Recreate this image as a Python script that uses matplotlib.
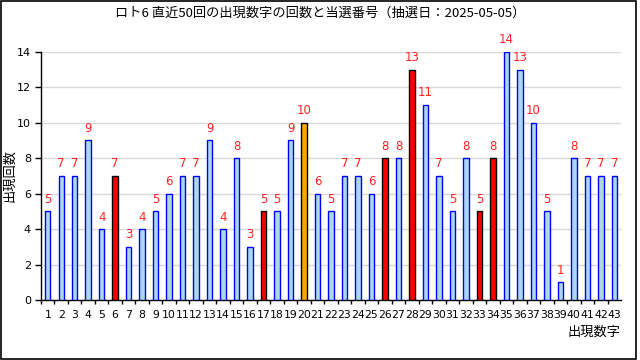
import matplotlib
matplotlib.use('Agg')
import matplotlib.pyplot as plt
from matplotlib.patches import Rectangle
from matplotlib.ticker import MultipleLocator

plt.rcParams['font.family'] = ['Noto Sans CJK JP', 'DejaVu Sans']

# data
numbers = list(range(1, 44))
counts = [5, 7, 7, 9, 4, 7, 3, 4, 5, 6,
          7, 7, 9, 4, 8, 3, 5, 5, 9, 10,
          6, 5, 7, 7, 6, 8, 8, 13, 11, 7,
          5, 8, 5, 8, 14, 13, 10, 5, 1, 8,
          7, 7, 7]
winning = [6, 17, 26, 28, 33, 34]
bonus = [20]

title = 'ロト6 直近50回の出現数字の回数と当選番号（抽選日：2025-05-05）'

fig = plt.figure(figsize=(6.4, 3.6), dpi=100)
ax = fig.add_axes([0.0636, 0.1667, 0.9064, 0.6893])

face, edge = [], []
for n in numbers:
    if n in winning:
        face.append('#ff0000'); edge.append('black')
    elif n in bonus:
        face.append('#ffa500'); edge.append('black')
    else:
        face.append('#add8e6'); edge.append('#0000ff')

ax.bar(numbers, counts, width=0.4, color=face, edgecolor=edge, linewidth=1, zorder=3)

# count labels above each bar
for n, c in zip(numbers, counts):
    ax.annotate(str(c), (n, c), xytext=(0, 4), textcoords='offset points',
                ha='center', va='bottom', color='#ff2020', fontsize=8.5,
                family='DejaVu Sans', annotation_clip=False, zorder=4)

ax.set_xlim(0.48, 43.48)
ax.set_ylim(0, 14)
ax.set_xticks(numbers)
ax.set_xticklabels([str(n) for n in numbers], family='DejaVu Sans', fontsize=7.8)
ax.xaxis.set_minor_locator(MultipleLocator(1, offset=0.5))
ax.tick_params(axis='x', which='major', length=0, pad=7)
ax.tick_params(axis='x', which='minor', length=3, width=1, color='black')
ax.yaxis.set_major_locator(MultipleLocator(2))
ax.tick_params(axis='y', length=4, width=1, pad=3)
for lbl in ax.get_yticklabels():
    lbl.set_family('DejaVu Sans')
    lbl.set_fontsize(8)

ax.grid(axis='y', color='#d8d8d8', linewidth=1, zorder=0)
ax.set_axisbelow(True)
ax.spines['top'].set_visible(False)
ax.spines['right'].set_visible(False)
ax.spines['left'].set_linewidth(1)
ax.spines['bottom'].set_linewidth(1)

ax.set_ylabel('出現回数', fontsize=9.5)
ax.yaxis.set_label_coords(-0.042, 0.5)
fig.text(0.969, (360 - 332) / 360, '出現数字', ha='right', va='center', fontsize=9.5)

fig.text(0.5, 1 - 13 / 360, title, ha='center', va='center', fontsize=9.5)

# outer frame
fig.patches.append(Rectangle((0.002, 0.003), 0.992, 0.994, transform=fig.transFigure,
                             fill=False, edgecolor='black', linewidth=1.2))

fig.savefig('out.png', dpi=100)
